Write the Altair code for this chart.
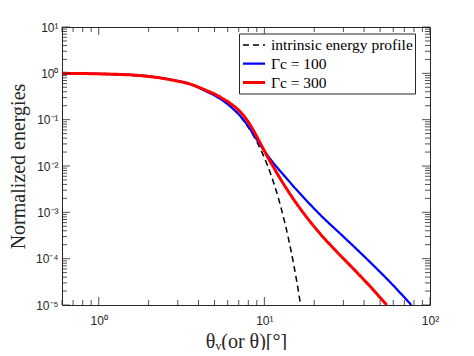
import altair as alt
import pandas as pd

# ---- data ----
theta_intr = [0.6, 1.0, 1.5, 2.0, 2.5, 3.0, 3.5, 4.0, 4.5, 5.0, 5.5, 6.0, 6.5, 7.0,
              7.5, 8.0, 8.5, 9.0, 9.5, 10.0, 11.0, 12.0, 13.0, 14.0, 15.0, 16.0, 16.55]
E_intr = [0.985, 0.959, 0.910, 0.845, 0.769, 0.685, 0.598, 0.511, 0.427, 0.350, 0.281,
          0.220, 0.169, 0.128, 0.094, 0.068, 0.048, 0.0333, 0.0226, 0.0150, 0.0062,
          0.00236, 8.2e-4, 2.65e-4, 7.8e-5, 2.13e-5, 1.0e-5]

theta_100 = [0.6, 1.0, 1.78, 2.81, 3.56, 4.511, 5.044, 5.638, 6.215, 7.142, 7.873,
             8.441, 9.047, 9.702, 10.84, 13.36, 16.46, 21.74, 30.77, 43.58, 57.56, 77.09]
E_100 = [1.0, 0.975, 0.90, 0.715, 0.59, 0.3994, 0.3273, 0.2553, 0.1943, 0.1212,
         0.0774, 0.0534, 0.0362, 0.0247, 0.01429, 0.005843, 0.002511, 8.84e-4,
         2.75e-4, 8.34e-5, 3.09e-5, 1.0e-5]

theta_300 = [0.6, 1.0, 1.78, 2.81, 3.56, 4.511, 5.044, 5.638, 6.215, 7.142, 7.873,
             8.441, 9.047, 9.702, 10.54, 11.46, 12.81, 14.32, 17.64, 21.74, 27.16,
             34.40, 43.58, 54.83]
E_300 = [1.0, 0.975, 0.895, 0.71, 0.585, 0.4196, 0.3527, 0.2820, 0.2254, 0.1478,
         0.0969, 0.0651, 0.04162, 0.02596, 0.01502, 0.008917, 0.004559, 0.002449,
         8.62e-4, 3.44e-4, 1.45e-4, 6.1e-5, 2.5e-5, 1.0e-5]

series_names = ["intrinsic energy profile", "Γc = 100", "Γc = 300"]
series_colors = ["#000000", "#0000FF", "#FF0000"]
series_dash = [[6, 4], [1, 0], [1, 0]]
series_width = [1.5, 3, 3]

x_major = [1, 10, 100]
x_minor = [0.6, 0.7, 0.8, 0.9, 2, 3, 4, 5, 6, 7, 8, 9, 20, 30, 40, 50, 60, 70, 80, 90]
y_major = [1e-5, 1e-4, 1e-3, 1e-2, 1e-1, 1, 10]
y_minor = [round(k * 10.0 ** d, 12) for d in range(-5, 1) for k in range(2, 10)]

rows = []
for name, th, ee in [(series_names[0], theta_intr, E_intr),
                     (series_names[1], theta_100, E_100),
                     (series_names[2], theta_300, E_300)]:
    for t, e in zip(th, ee):
        rows.append({"theta": t, "E": e, "series": name})
df = pd.DataFrame(rows)

W, H = 368, 278
INK = "#262626"
xs = alt.Scale(type="log", domain=[0.6, 100], nice=False)
ys = alt.Scale(type="log", domain=[1e-5, 10], nice=False)

x_lab = ("'10' + (round(log(datum.value)/LN10) == 0 ? '⁰' : "
         "round(log(datum.value)/LN10) == 1 ? '¹' : '²')")
y_lab = ("'10' + (round(log(datum.value)/LN10) == 1 ? '¹' : "
         "round(log(datum.value)/LN10) == 0 ? '⁰' : "
         "round(log(datum.value)/LN10) == -1 ? '⁻¹' : "
         "round(log(datum.value)/LN10) == -2 ? '⁻²' : "
         "round(log(datum.value)/LN10) == -3 ? '⁻³' : "
         "round(log(datum.value)/LN10) == -4 ? '⁻⁴' : '⁻⁵')")

lab_style = dict(labelFont="Liberation Sans", labelFontSize=12, labelColor=INK,
                 labelOverlap=False, labelFlush=False, domain=False, grid=False,
                 ticks=False)
tit_style = dict(titleFont="Liberation Serif", titleFontSize=20, titleColor=INK,
                 titleFontWeight="normal")

lines = alt.Chart(df).mark_line(clip=True, interpolate="monotone").encode(
    x=alt.X("theta:Q", scale=xs, title="θᵥ(or θ)[°]",
            axis=alt.Axis(values=x_major, labelExpr=x_lab, labelPadding=10,
                          titlePadding=5, **lab_style, **tit_style)),
    y=alt.Y("E:Q", scale=ys, title="Normalized energies",
            axis=alt.Axis(values=y_major, labelExpr=y_lab, labelPadding=4,
                          titlePadding=7, **lab_style, **tit_style)),
    color=alt.Color("series:N", title=None,
                    scale=alt.Scale(domain=series_names, range=series_colors),
                    legend=alt.Legend(orient="none", legendX=177, legendY=6.5,
                                      symbolType="M-1.3,0H1.3", symbolSize=289,
                                      symbolOffset=3,
                                      labelFont="Liberation Serif", labelFontSize=15.5,
                                      labelColor="#000000", labelOffset=7,
                                      padding=2, rowPadding=0,
                                      fillColor="white", strokeColor=INK)),
    strokeDash=alt.StrokeDash("series:N", title=None,
                              scale=alt.Scale(domain=series_names, range=series_dash)),
    strokeWidth=alt.StrokeWidth("series:N", title=None,
                                scale=alt.Scale(domain=series_names, range=series_width)),
)


def xticks(vals, length, top):
    y0, y1 = (0, length) if top else (H, H - length)
    return alt.Chart(pd.DataFrame({"v": vals})).mark_rule(
        color=INK, strokeWidth=0.8).encode(
        x=alt.X("v:Q", scale=xs),
        y=alt.value(y0), y2=alt.value(y1))


def yticks(vals, length, right):
    x0, x1 = (W, W - length) if right else (0, length)
    return alt.Chart(pd.DataFrame({"v": vals})).mark_rule(
        color=INK, strokeWidth=0.8).encode(
        y=alt.Y("v:Q", scale=ys),
        x=alt.value(x0), x2=alt.value(x1))


tick_layers = [
    xticks(x_major, 8, False), xticks(x_minor, 5, False),
    xticks(x_major, 8, True), xticks(x_minor, 5, True),
    yticks(y_major, 8, False), yticks(y_minor, 5, False),
    yticks(y_major, 8, True), yticks(y_minor, 5, True),
]

chart = alt.layer(lines, *tick_layers).properties(
    width=W, height=H,
    autosize=alt.AutoSizeParams(type="none"),
    padding={"left": 54, "top": 19, "right": 36, "bottom": 45},
    background="white",
).configure_view(stroke=INK, strokeWidth=1)

chart.save("out.html", embed_options={"renderer": "svg", "actions": False})
